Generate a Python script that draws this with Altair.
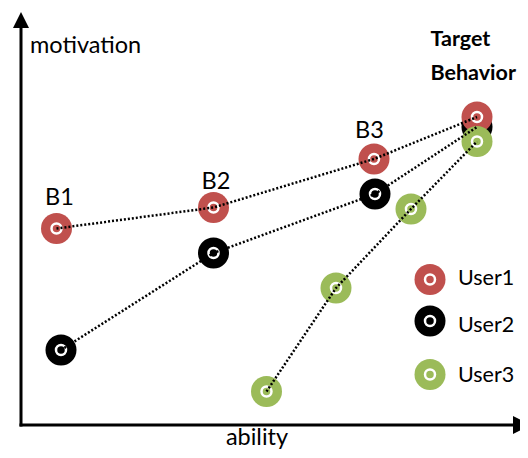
import altair as alt
import pandas as pd

# ---- data ----
users = ["User1", "User2", "User3"]
user_colors = ["#C0504D", "#000000", "#9BBB59"]
steps = ["B1", "B2", "B3", "Target"]

user1_ability = [0.71, 3.85, 7.06, 9.12]
user1_motivation = [3.93, 4.35, 5.32, 6.16]
user2_ability = [0.80, 3.85, 7.08, 9.12]
user2_motivation = [1.50, 3.44, 4.62, 5.96]
user3_ability = [4.91, 6.30, 7.80, 9.12]
user3_motivation = [0.67, 2.74, 4.32, 5.67]

step_labels = ["B1", "B2", "B3"]
step_label_x = [0.77, 3.90, 6.97]
step_label_y = [4.41, 4.72, 5.75]

target_lines = ["Target", "Behavior"]
target_x = [8.19, 8.19]
target_y = [7.59, 6.91]

legend_x = 8.18
legend_y = [2.91, 2.08, 1.01]
legend_text_x = 8.74
legend_text_y = [2.81, 1.87, 0.87]

axis_titles = ["motivation", "ability"]
axis_title_x = [0.18, 4.72]
axis_title_y = [7.44, -0.40]
axis_title_align = ["left", "center"]

FONT = "Lato"
FS = 23.5

xs = alt.Scale(domain=[-0.26, 9.98], nice=False, zero=False)
ys = alt.Scale(domain=[-0.50, 8.34], nice=False, zero=False)
X = lambda f: alt.X(f, type="quantitative", scale=xs, axis=None)
Y = lambda f: alt.Y(f, type="quantitative", scale=ys, axis=None)

rows = []
for u, ab, mo in [("User1", user1_ability, user1_motivation),
                  ("User2", user2_ability, user2_motivation),
                  ("User3", user3_ability, user3_motivation)]:
    for i, s in enumerate(steps):
        rows.append({"user": u, "step": s, "order": i, "ability": ab[i], "motivation": mo[i]})
pts = pd.DataFrame(rows)

color_of = dict(zip(users, user_colors))

layers = []

# axes
axes_df = pd.DataFrame({
    "x": [0, 0], "y": [0, 0], "x2": [0, 9.98], "y2": [7.94, 0]
})
layers.append(alt.Chart(axes_df).mark_rule(color="black", strokeWidth=3, strokeCap="square").encode(
    x=X("x"), y=Y("y"), x2="x2", y2="y2"))
arrow_df = pd.DataFrame({"x": [0, 10.02], "y": [8.1, 0],
                         "shape": ["M-1,1L1,1L0,-1Z", "M-1,-1L1,0L-1,1Z"],
                         "size": [256, 324]})
for i in range(2):
    layers.append(alt.Chart(arrow_df.iloc[[i]]).mark_point(
        shape=arrow_df["shape"][i], size=int(arrow_df["size"][i]), filled=True,
        color="black", opacity=1, strokeWidth=0).encode(x=X("x"), y=Y("y")))

# circles, drawn user by user (User2 under User1 under User3)
for u in ["User2", "User1", "User3"]:
    d = pts[pts.user == u]
    layers.append(alt.Chart(d).mark_circle(size=961, color=color_of[u], opacity=1).encode(
        x=X("ability"), y=Y("motivation")))
    layers.append(alt.Chart(d).mark_point(size=100, stroke="white", strokeWidth=2.5,
                                          filled=False, opacity=1).encode(
        x=X("ability"), y=Y("motivation")))

# dotted connecting lines
layers.append(alt.Chart(pts).mark_line(color="black", strokeWidth=2.5, strokeDash=[2, 2]).encode(
    x=X("ability"), y=Y("motivation"), detail="user:N", order="order:Q"))

# legend
leg = pd.DataFrame({"user": users, "x": [legend_x] * 3, "y": legend_y,
                    "tx": [legend_text_x] * 3, "ty": legend_text_y})
for i, u in enumerate(users):
    d = leg.iloc[[i]]
    layers.append(alt.Chart(d).mark_circle(size=961, color=user_colors[i], opacity=1).encode(
        x=X("x"), y=Y("y")))
    layers.append(alt.Chart(d).mark_point(size=100, stroke="white", strokeWidth=2.5,
                                          filled=False, opacity=1).encode(x=X("x"), y=Y("y")))
layers.append(alt.Chart(leg).mark_text(font=FONT, fontSize=21.5, align="left", baseline="alphabetic",
                                       color="black").encode(x=X("tx"), y=Y("ty"), text="user:N"))

# step labels
sl = pd.DataFrame({"t": step_labels, "x": step_label_x, "y": step_label_y})
layers.append(alt.Chart(sl).mark_text(font=FONT, fontSize=FS, align="center", baseline="alphabetic",
                                      color="black").encode(x=X("x"), y=Y("y"), text="t:N"))

# target labels
tl = pd.DataFrame({"t": target_lines, "x": target_x, "y": target_y})
layers.append(alt.Chart(tl).mark_text(font=FONT, fontSize=21.5, fontWeight="bold", align="left",
                                      baseline="alphabetic", color="black").encode(
    x=X("x"), y=Y("y"), text="t:N"))

# axis titles
at = pd.DataFrame({"t": axis_titles, "x": axis_title_x, "y": axis_title_y, "a": axis_title_align})
for i in range(2):
    layers.append(alt.Chart(at.iloc[[i]]).mark_text(font=FONT, fontSize=FS, align=axis_title_align[i],
                                                    baseline="alphabetic", color="black").encode(
        x=X("x"), y=Y("y"), text="t:N"))

chart = alt.layer(*layers).properties(
    width=512, height=442, padding=0, autosize=alt.AutoSizeParams(type="none")
).configure_view(stroke=None)

chart.save("out.html", embed_options={"renderer": "svg", "actions": False})
